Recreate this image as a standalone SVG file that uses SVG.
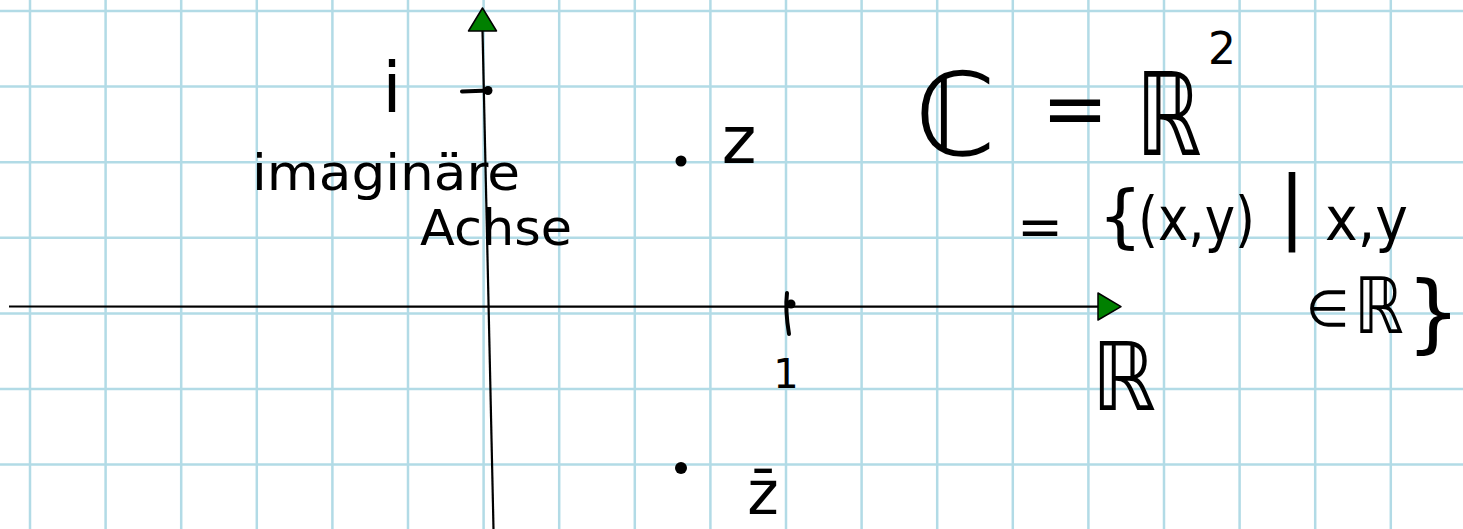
<svg xmlns="http://www.w3.org/2000/svg" width="1463" height="529" viewBox="0 0 1463 529">
<style>
.grid{stroke:#b2dbe6;stroke-width:2.5;fill:none}
.axis{stroke:#000;stroke-width:2.2;fill:none}
.arrow{fill:#008000;stroke:#000;stroke-width:1.5;stroke-linejoin:round}
.ink{stroke:#000;stroke-width:4;stroke-linecap:round;fill:none}
.dot{fill:#000}
text{font-family:"DejaVu Sans","Liberation Sans",sans-serif;fill:#000}
</style>
<rect width="1463" height="529" fill="#fff"/>
<g id="grid">
<path class="grid" d="M30 0V529M105.6 0V529M181.2 0V529M256.8 0V529M332.4 0V529M408 0V529M483.6 0V529M559.2 0V529M634.8 0V529M710.4 0V529M786 0V529M861.6 0V529M937.2 0V529M1012.8 0V529M1088.4 0V529M1164 0V529M1239.6 0V529M1315.2 0V529M1390.8 0V529"/>
<path class="grid" d="M0 11H1463M0 86.6H1463M0 162.2H1463M0 237.8H1463M0 313.4H1463M0 389H1463M0 464.6H1463"/>
</g>
<g id="connectors">
<line class="axis" x1="9" y1="306.5" x2="1100" y2="306.7"/>
<line class="axis" x1="482.5" y1="30" x2="493.5" y2="529"/>
<polygon class="arrow" points="1098,293 1121,306.7 1098,320"/>
<polygon class="arrow" points="468.5,31 496.5,31 482.5,8"/>
</g>
<g id="tick-i">
<path class="ink" d="M462 91.5L489 90.5"/>
<circle class="dot" cx="488" cy="90.5" r="4.5"/>
<text x="392" y="112" font-size="70" text-anchor="middle">i</text>
</g>
<g id="label-imag-axis">
<text x="252" y="190" font-size="50" textLength="268" lengthAdjust="spacingAndGlyphs">imaginäre</text>
<text x="420" y="245" font-size="50" textLength="152" lengthAdjust="spacingAndGlyphs">Achse</text>
</g>
<g id="point-z">
<circle class="dot" cx="681" cy="161" r="5.5"/>
<text x="739" y="163" font-size="66" text-anchor="middle">z</text>
</g>
<g id="point-zbar">
<circle class="dot" cx="681" cy="468" r="6"/>
<text x="763" y="514" font-size="60" text-anchor="middle">z̄</text>
</g>
<g id="tick-1">
<path class="ink" d="M787 293Q785 310 789 334"/>
<circle class="dot" cx="791" cy="304" r="4.5"/>
<text x="786" y="388" font-size="40" text-anchor="middle">1</text>
</g>
<g id="label-R-axis">
<text transform="translate(1092 410) scale(0.85 1)" font-size="95">ℝ</text>
</g>
<g id="formula">
<text x="915" y="155" font-size="115">ℂ</text>
<text x="1075" y="136" font-size="80" text-anchor="middle">=</text>
<text transform="translate(1136 155) scale(0.72 1)" font-size="115">ℝ</text>
<text x="1208" y="64" font-size="44">2</text>
<text x="1040" y="246" font-size="55" text-anchor="middle">=</text>
<text x="1098" y="240" font-size="70">{</text>
<text x="1138" y="240" font-size="60" textLength="117" lengthAdjust="spacingAndGlyphs">(x,y)</text>
<text x="1292" y="233" font-size="80" text-anchor="middle">|</text>
<text x="1325" y="240" font-size="60" textLength="83" lengthAdjust="spacingAndGlyphs">x,y</text>
<text x="1306" y="326" font-size="50">∈</text>
<text transform="translate(1354 333) scale(0.8 1)" font-size="78">ℝ</text>
<text x="1406" y="342" font-size="86">}</text>
</g>
</svg>
